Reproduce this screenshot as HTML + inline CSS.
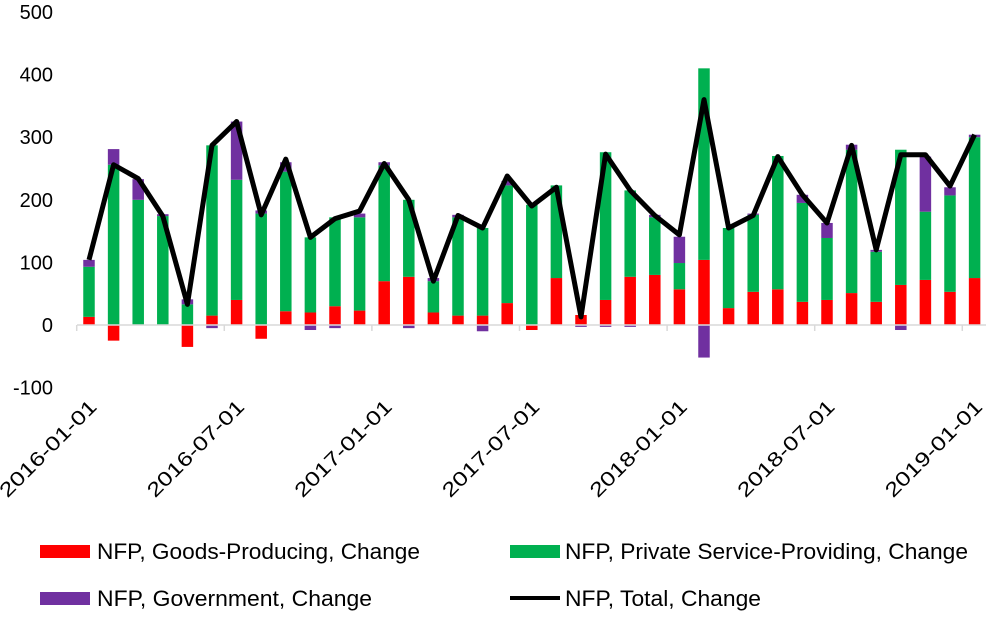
<!DOCTYPE html>
<html><head><meta charset="utf-8"><style>
body{margin:0;background:#fff;}
svg{font-family:"Liberation Sans",sans-serif;}
</style></head><body>
<svg id="chart" width="989" height="617">
<g id="yaxis"></g>
<g id="bars"></g>
<g id="xaxis"></g>
<g id="line"></g>
<g font-size="22.5" fill="#000">
 <g><rect x="40" y="545" width="50" height="13" fill="#ff0000"/><text x="97" y="559" textLength="323" lengthAdjust="spacingAndGlyphs">NFP, Goods-Producing, Change</text></g>
 <g><rect x="510" y="545" width="50" height="13" fill="#00b050"/><text x="565" y="559" textLength="403" lengthAdjust="spacingAndGlyphs">NFP, Private Service-Providing, Change</text></g>
 <g><rect x="40" y="592" width="50" height="13" fill="#7030a0"/><text x="97" y="606" textLength="275" lengthAdjust="spacingAndGlyphs">NFP, Government, Change</text></g>
 <g><line x1="510" y1="598" x2="560" y2="598" stroke="#000" stroke-width="4"/><text x="565" y="606" textLength="196" lengthAdjust="spacingAndGlyphs">NFP, Total, Change</text></g>
</g>
</svg>
<script>
const months = ["2016-01-01","2016-02-01","2016-03-01","2016-04-01","2016-05-01","2016-06-01","2016-07-01","2016-08-01","2016-09-01","2016-10-01","2016-11-01","2016-12-01","2017-01-01","2017-02-01","2017-03-01","2017-04-01","2017-05-01","2017-06-01","2017-07-01","2017-08-01","2017-09-01","2017-10-01","2017-11-01","2017-12-01","2018-01-01","2018-02-01","2018-03-01","2018-04-01","2018-05-01","2018-06-01","2018-07-01","2018-08-01","2018-09-01","2018-10-01","2018-11-01","2018-12-01","2019-01-01"];
const goods = [13,-25,0,0,-35,15,40,-22,22,20,30,23,70,77,20,15,15,35,-8,75,16,40,77,80,57,104,27,53,57,37,40,51,37,64,72,53,75];
const services = [80,256,200,174,33,272,192,178,223,120,142,149,185,123,50,157,140,188,192,148,0,236,138,92,42,306,128,123,213,158,99,229,80,216,109,154,225];
const government = [11,25,33,3,8,-5,93,5,15,-8,-5,6,5,-5,5,4,-10,7,0,0,-3,-3,-3,4,42,-52,0,2,0,13,24,8,3,-8,88,13,4];
const total = [104,256,234,174,33,287,325,176,265,140,170,182,258,200,70,175,155,238,190,220,13,273,215,175,144,360,155,175,269,208,163,287,120,272,272,222,304];
const yTicks = [-100,0,100,200,300,400,500];
const xLabelIdx = [0,6,12,18,24,30,36];

const NS="http://www.w3.org/2000/svg";
const y0=325, pxPer=0.626, x0=89, step=24.6, bw=11.5;
const yS=v=>y0-v*pxPer;
const xS=i=>x0+i*step;
function mk(tag,attrs,parent){const e=document.createElementNS(NS,tag);for(const k in attrs)e.setAttribute(k,attrs[k]);parent.appendChild(e);return e;}
const ya=document.getElementById('yaxis'),bars=document.getElementById('bars'),xa=document.getElementById('xaxis'),ln=document.getElementById('line');
yTicks.forEach(t=>{const e=mk('text',{x:53,y:yS(t)+7,'font-size':20,'text-anchor':'end',fill:'#000'},ya);e.textContent=t;

});
months.forEach((m,i)=>{
 const x=xS(i)-bw/2;let pos=0,neg=0;
 [[goods[i],'#ff0000','goods'],[services[i],'#00b050','services'],[government[i],'#7030a0','government']].forEach(([v,c,n])=>{
  let top,bot;
  if(v>=0){bot=pos;top=pos+v;pos=top;}else{top=neg;bot=neg+v;neg=bot;}
  const r=mk('rect',{x:x,y:yS(top),width:bw,height:Math.max(0,yS(bot)-yS(top)),fill:c},bars);
  
  
 });
});
const axl=mk('line',{x1:77,y1:y0,x2:986,y2:y0,stroke:'#d9d9d9','stroke-width':1.5},xa);


xLabelIdx.forEach(i=>{
 const tx=xS(i)-step/2;
 const tk=mk('line',{x1:tx,y1:y0,x2:tx,y2:y0+6,stroke:'#d9d9d9','stroke-width':1.5},xa);
 
 
 const lx=xS(i)+9, ly=408;
 const t=mk('text',{x:lx,y:ly,'font-size':20,'text-anchor':'end',transform:`rotate(-45 ${lx} ${ly})`,fill:'#000',textLength:128,lengthAdjust:'spacingAndGlyphs'},xa);
 t.textContent=months[i];
 
 
});
const p=mk('polyline',{points:total.map((v,i)=>xS(i)+','+yS(v)).join(' '),fill:'none',stroke:'#000','stroke-width':5,'stroke-linejoin':'round'},ln);


</script>
</body></html>
